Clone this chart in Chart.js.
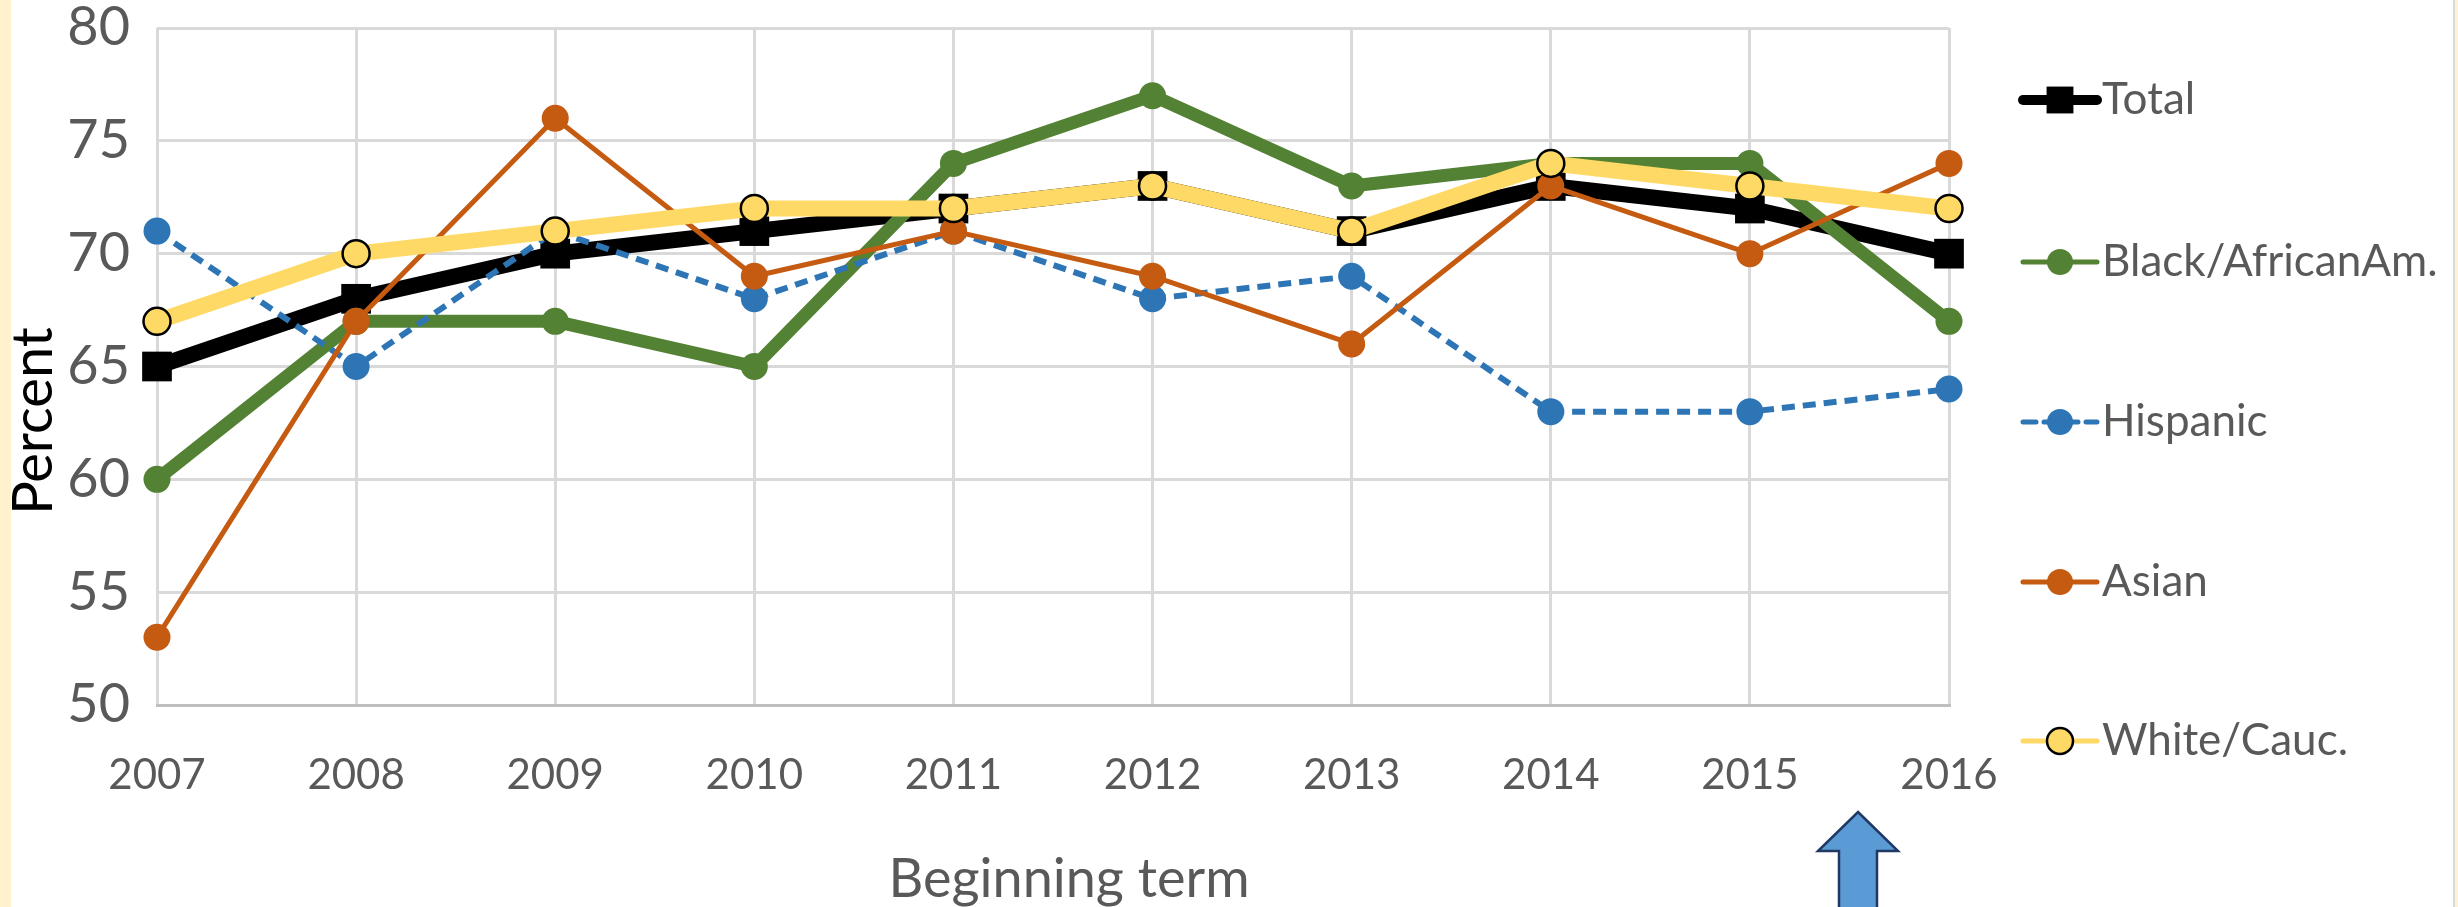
<!DOCTYPE html>
<html>
<head>
<meta charset="utf-8">
<script src="https://cdn.jsdelivr.net/npm/chart.js@4.4.1/dist/chart.umd.min.js"></script>
<style>
  html, body { margin: 0; padding: 0; background: #fff2cc; }
  body { width: 2458px; height: 907px; position: relative; overflow: hidden; }
  #frame { position: absolute; left: 11px; top: 0; width: 2442px; height: 907px; background: #fff; border-right: 2px solid #d9d9d9; }
  #frame canvas { display: block; }
  #arrow { position: absolute; left: 0; top: 0; }
</style>
</head>
<body>
<div id="frame"><canvas id="grafico" width="2442" height="907"></canvas></div>
<svg id="arrow" width="2458" height="907">
  <polygon points="1858,812 1898,851 1877,851 1877,912 1839,912 1839,851 1818,851" fill="#5b9bd5" stroke="#203864" stroke-width="2.5"/>
</svg>
<script>
const anos = ["2007", "2008", "2009", "2010", "2011", "2012", "2013", "2014", "2015", "2016"];
const total = [65, 68, 70, 71, 72, 73, 71, 73, 72, 70];
const negros = [60, 67, 67, 65, 74, 77, 73, 74, 74, 67];
const hispanicos = [71, 65, 71, 68, 71, 68, 69, 63, 63, 64];
const asiaticos = [53, 67, 76, 69, 71, 69, 66, 73, 70, 74];
const brancos = [67, 70, 71, 72, 72, 73, 71, 74, 73, 72];
const eixoY = { min: 50, max: 80, passo: 5 };
const tituloX = "Beginning term";
const tituloY = "Percent";

const fonte = "Lato";
const cinzaTexto = "#595959";

// titulos dos eixos desenhados a mao (no Excel eles nao ficam centrados no grafico)
const titulosEixos = {
  id: "titulosEixos",
  afterDraw(chart) {
    const ctx = chart.ctx;
    ctx.save();
    ctx.textAlign = "center";
    ctx.textBaseline = "alphabetic";
    ctx.fillStyle = cinzaTexto;
    ctx.font = "54px " + fonte;
    ctx.fillText(tituloX, 1058, 897);
    ctx.translate(41, 421);
    ctx.rotate(-Math.PI / 2);
    ctx.fillStyle = "#000000";
    ctx.font = "56px " + fonte;
    ctx.fillText(tituloY, 0, 0);
    ctx.restore();
  },
};

// legenda estilo Excel: linha + marcador + texto
const legendaLateral = {
  id: "legendaLateral",
  afterDraw(chart) {
    const ctx = chart.ctx;
    const ys = [100, 262, 422, 582, 741];
    const espessura = [10, 5, 5, 5, 5];
    chart.data.datasets.forEach((ds, i) => {
      const y = ys[i];
      ctx.save();
      ctx.strokeStyle = ds.borderColor;
      ctx.lineWidth = espessura[i];
      ctx.lineCap = "round";
      ctx.setLineDash(ds.borderDash || []);
      ctx.beginPath();
      ctx.moveTo(2012, y);
      ctx.lineTo(2086, y);
      ctx.stroke();
      ctx.setLineDash([]);
      ctx.fillStyle = ds.pointBackgroundColor;
      ctx.strokeStyle = ds.pointBorderColor;
      ctx.lineWidth = ds.pointBorderWidth;
      Chart.helpers.drawPoint(ctx, {
        pointStyle: ds.pointStyle,
        radius: ds.pointStyle === "rect" ? 19 : 13,
        borderWidth: ds.pointBorderWidth,
        rotation: 0,
      }, 2049, y);
      ctx.fillStyle = cinzaTexto;
      ctx.font = "44px " + fonte;
      ctx.textBaseline = "middle";
      ctx.textAlign = "left";
      ctx.fillText(ds.label, 2091, y);
      ctx.restore();
    });
  },
};

new Chart(document.getElementById("grafico"), {
  type: "line",
  data: {
    labels: anos,
    datasets: [
      {
        label: "Total",
        data: total,
        borderColor: "#000000",
        borderWidth: 16,
        pointStyle: "rect",
        pointRadius: 21,
        pointBackgroundColor: "#000000",
        pointBorderColor: "#000000",
        pointBorderWidth: 0,
        order: 5,
      },
      {
        label: "Black/AfricanAm.",
        data: negros,
        borderColor: "#548235",
        borderWidth: 13,
        pointStyle: "circle",
        pointRadius: 13.5,
        pointBackgroundColor: "#548235",
        pointBorderColor: "#548235",
        pointBorderWidth: 0,
        order: 4,
      },
      {
        label: "Hispanic",
        data: hispanicos,
        borderColor: "#2e75b6",
        borderWidth: 6,
        borderDash: [13, 8],
        pointStyle: "circle",
        pointRadius: 13.5,
        pointBackgroundColor: "#2e75b6",
        pointBorderColor: "#2e75b6",
        pointBorderWidth: 0,
        order: 3,
      },
      {
        label: "Asian",
        data: asiaticos,
        borderColor: "#c55a11",
        borderWidth: 5,
        pointStyle: "circle",
        pointRadius: 13.5,
        pointBackgroundColor: "#c55a11",
        pointBorderColor: "#c55a11",
        pointBorderWidth: 0,
        order: 2,
      },
      {
        label: "White/Cauc.",
        data: brancos,
        borderColor: "#ffd966",
        borderWidth: 16,
        pointStyle: "circle",
        pointRadius: 13.5,
        pointBackgroundColor: "#ffd966",
        pointBorderColor: "#000000",
        pointBorderWidth: 2.5,
        order: 1,
      },
    ].map((ds) => ({ ...ds, tension: 0, clip: false, borderJoinStyle: "round" })),
  },
  options: {
    responsive: false,
    animation: false,
    events: [],
    layout: { padding: { top: 28, right: 504, bottom: 0, left: 0 } },
    plugins: { legend: { display: false }, tooltip: { enabled: false } },
    scales: {
      x: {
        grid: { color: "#d9d9d9", lineWidth: 3, drawTicks: false },
        border: { color: "#bfbfbf", width: 3 },
        ticks: {
          color: cinzaTexto,
          font: { family: fonte, size: 42 },
          padding: 45,
          maxRotation: 0,
          autoSkip: false,
        },
        afterFit(scale) { scale.height = 202; },
      },
      y: {
        min: eixoY.min,
        max: eixoY.max,
        grid: {
          color: (c) => (c.tick && c.tick.value === eixoY.min ? "#bfbfbf" : "#d9d9d9"),
          lineWidth: 3,
          drawTicks: false,
        },
        border: { display: false },
        ticks: {
          stepSize: eixoY.passo,
          color: cinzaTexto,
          font: { family: fonte, size: 54, lineHeight: 1 },
          padding: 27,
        },
        afterFit(scale) {
          scale.width = 146;
          scale.paddingTop = 0;
          scale.paddingBottom = 0;
        },
      },
    },
  },
  plugins: [titulosEixos, legendaLateral],
});
</script>
</body>
</html>
